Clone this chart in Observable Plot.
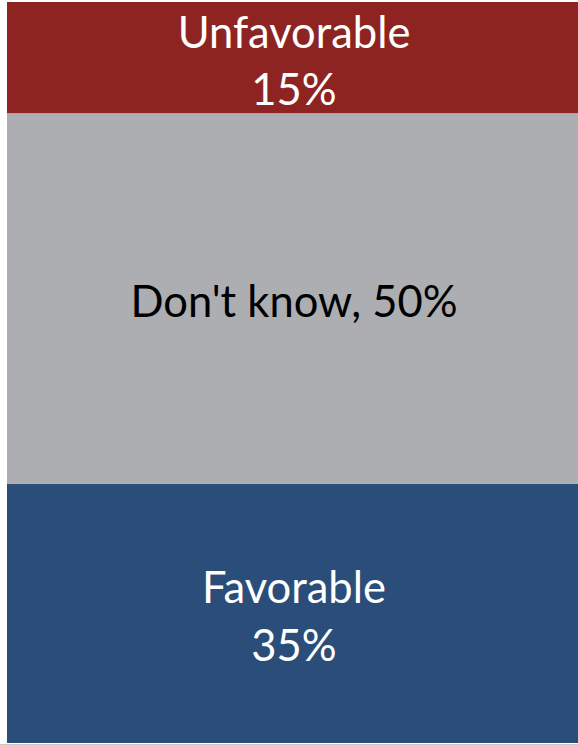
<!DOCTYPE html>
<html>
<head>
<meta charset="utf-8">
<script src="https://cdn.jsdelivr.net/npm/d3@7"></script>
<script src="https://cdn.jsdelivr.net/npm/@observablehq/plot@0.6"></script>
<style>
  html, body { margin: 0; padding: 0; background: #fff; }
  #chart svg { display: block; }
</style>
</head>
<body>
<div id="chart"></div>
<script>
const categories = ["Favorable", "Don't know", "Unfavorable"];
const values = [35, 50, 15];
const labels = ["Favorable\n35%", "Don't know, 50%", "Unfavorable\n15%"];
const fills = ["#2A4E79", "#ADAEB2", "#8E2422"];
const textColors = ["#ffffff", "#000000", "#ffffff"];

const data = categories.map((c, i) => ({
  group: "All", category: c, value: values[i], label: labels[i],
  fill: fills[i], textColor: textColors[i]
}));

const chart = Plot.plot({
  width: 578,
  height: 745,
  marginLeft: 7,
  marginRight: 0,
  marginTop: 2,
  marginBottom: 2,
  x: { domain: ["All"], padding: 0, axis: null },
  y: { domain: [0, 100], axis: null },
  style: { fontFamily: "Lato, 'Open Sans', sans-serif", background: "#fff" },
  marks: [
    Plot.barY(data, Plot.stackY({ x: "group", y: "value", fill: "fill", order: null })),
    Plot.text(data, Plot.stackY({
      x: "group", y: "value", text: "label", fill: "textColor", order: null,
      fontSize: 43.5, lineHeight: 1.32, textAnchor: "middle", dx: 1
    })),
    Plot.ruleY([0], { stroke: "#c8c8c8", dy: 1, insetLeft: -7 })
  ]
});
document.getElementById("chart").appendChild(chart);
</script>
</body>
</html>
